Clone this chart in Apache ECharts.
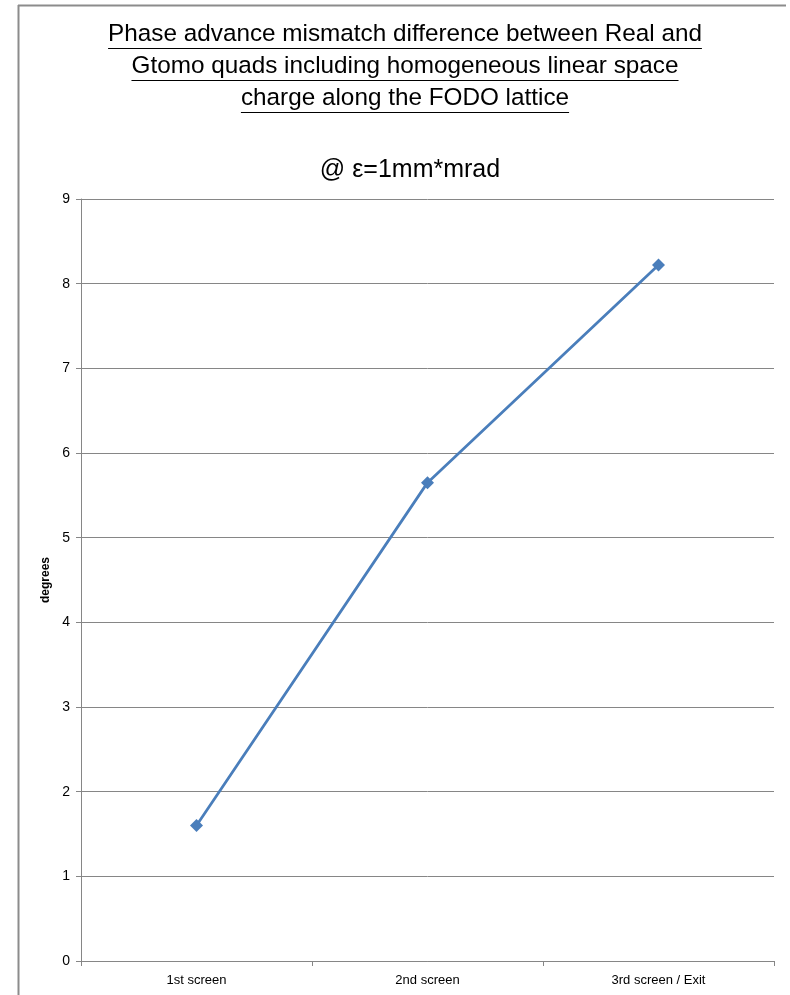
<!DOCTYPE html>
<html>
<head>
<meta charset="utf-8">
<title>Phase advance mismatch</title>
<script src="https://cdn.jsdelivr.net/npm/echarts@6/dist/echarts.min.js"></script>
<style>
  html, body { margin: 0; padding: 0; background: #ffffff; }
  #chart { width: 790px; height: 995px; }
</style>
</head>
<body>
<div id="chart"></div>
<script>
// Screens along the FODO lattice and the phase advance mismatch (degrees)
const categories = ['1st screen', '2nd screen', '3rd screen / Exit'];
const mismatchDeg = [1.6, 5.65, 8.22];
const yTicks = { min: 0, max: 9, interval: 1 };

const titleLines = [
  'Phase advance mismatch difference between Real and',
  'Gtomo quads including homogeneous linear space',
  'charge along the FODO lattice'
];
const subtitle = '@ \u03b5=1mm*mrad';

const FONT = '"Liberation Sans", Arial, sans-serif';
const TITLE_SIZE = 24.3;
const SUB_SIZE = 25;
const CX = 405;

// measure title text so the underline spans exactly the drawn words
const ctx = document.createElement('canvas').getContext('2d');
ctx.font = TITLE_SIZE + 'px ' + FONT;

const graphics = [
  // chart-area frame (top and left edge)
  { type: 'line', shape: { x1: 18, y1: 5.5, x2: 786, y2: 5.5 }, style: { stroke: '#8c8c8c', lineWidth: 2 } },
  { type: 'line', shape: { x1: 18.5, y1: 5, x2: 18.5, y2: 995 }, style: { stroke: '#8c8c8c', lineWidth: 2 } }
];
titleLines.forEach(function (t, i) {
  const cy = 36 + i * 32;
  const w = ctx.measureText(t).width;
  graphics.push({
    type: 'text', x: CX, y: cy - 14,
    style: {
      text: t, font: TITLE_SIZE + 'px ' + FONT, fill: '#000',
      textAlign: 'center', textVerticalAlign: 'top'
    }
  });
  graphics.push({
    type: 'line', shape: { x1: CX - w / 2, y1: cy + 12.5, x2: CX + w / 2, y2: cy + 12.5 },
    style: { stroke: '#000', lineWidth: 1 }
  });
});

const chart = echarts.init(document.getElementById('chart'), null, { renderer: 'canvas' });
chart.setOption({
  animation: false,
  backgroundColor: '#ffffff',
  title: {
    text: subtitle,
    left: CX, top: 153,
    textAlign: 'center',
    textStyle: { fontFamily: FONT, fontSize: SUB_SIZE, fontWeight: 'normal', color: '#000' }
  },
  graphic: graphics,
  grid: { left: 81, right: 16, top: 199, bottom: 34, containLabel: false },
  xAxis: {
    type: 'category',
    data: categories,
    boundaryGap: true,
    axisLine: { lineStyle: { color: '#868686', width: 1 } },
    axisTick: { show: true, length: 5, lineStyle: { color: '#868686' } },
    axisLabel: { fontFamily: FONT, fontSize: 13, color: '#000', margin: 13 }
  },
  yAxis: {
    type: 'value',
    min: yTicks.min, max: yTicks.max, interval: yTicks.interval,
    name: 'degrees',
    nameLocation: 'middle',
    nameGap: 26,
    nameRotate: 90,
    nameTextStyle: { fontFamily: FONT, fontSize: 12, fontWeight: 'bold', color: '#000' },
    axisLine: { show: true, lineStyle: { color: '#868686', width: 1 } },
    axisTick: { show: true, length: 5, lineStyle: { color: '#868686' } },
    axisLabel: { fontFamily: FONT, fontSize: 14, color: '#000', margin: 11 },
    splitLine: { show: true, lineStyle: { color: '#868686', width: 1 } }
  },
  series: [{
    type: 'line',
    data: mismatchDeg,
    symbol: 'diamond',
    symbolSize: 13,
    lineStyle: { color: '#4a7ebb', width: 2.75 },
    itemStyle: { color: '#4a7ebb' }
  }]
});
</script>
</body>
</html>
